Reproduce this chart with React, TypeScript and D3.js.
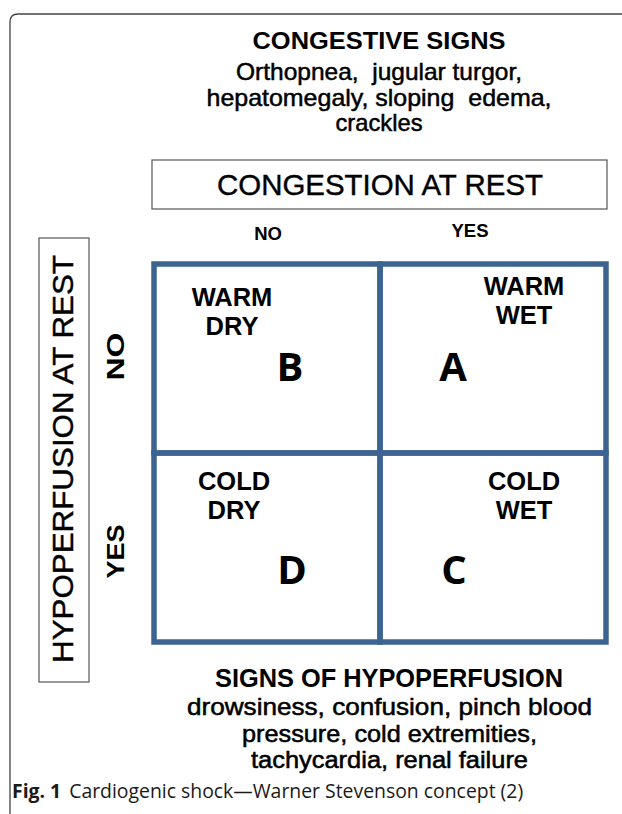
import React from "react";
import * as d3 from "d3";

// ---- data ----
const congestionLevels = ["NO", "YES"];
const hypoperfusionLevels = ["NO", "YES"];
const cellProfiles = [
  { col: "NO", row: "NO", lines: ["WARM", "DRY"], letter: "B" },
  { col: "YES", row: "NO", lines: ["WARM", "WET"], letter: "A" },
  { col: "NO", row: "YES", lines: ["COLD", "DRY"], letter: "D" },
  { col: "YES", row: "YES", lines: ["COLD", "WET"], letter: "C" },
];
const topTitle = "CONGESTIVE SIGNS";
const topLines = ["Orthopnea,  jugular turgor,", "hepatomegaly, sloping  edema,", "crackles"];
const colAxisTitle = "CONGESTION AT REST";
const rowAxisTitle = "HYPOPERFUSION AT REST";
const bottomTitle = "SIGNS OF HYPOPERFUSION";
const bottomLines = ["drowsiness, confusion, pinch blood", "pressure, cold extremities,", "tachycardia, renal failure"];
const captionBold = "Fig. 1";
const captionText = "Cardiogenic shock\u2014Warner Stevenson concept (2)";

// ---- layout ----
const W = 622;
const H = 814;
const FONT = "'Liberation Sans', Arial, sans-serif";
const BLUE = "#3d6491";
const topLineWidths = [286, 345, 87];
const bottomLineWidths = [405, 295, 277];
const rowLabelLengths = [48, 54];
const rowLabelShift = [-2, 4];
// label offsets within cells (relative to cell left/top)
const labelOffset: Record<string, { lx: number; ly: number; bx: number; by: number }> = {
  "NO|NO": { lx: 78, ly: 42, bx: 136, by: 117 },
  "YES|NO": { lx: 144, ly: 31, bx: 73, by: 117 },
  "NO|YES": { lx: 80, ly: 37, bx: 138, by: 131 },
  "YES|YES": { lx: 144, ly: 37, bx: 74, by: 131 },
};

export default function App() {
  const x = d3.scaleBand<string>().domain(congestionLevels).range([154, 606]).padding(0);
  const y = d3.scaleBand<string>().domain(hypoperfusionLevels).range([264, 642]).padding(0);
  const bw = x.bandwidth();
  const bh = y.bandwidth();

  return (
    <svg width={W} height={H} style={{ position: "absolute", left: 0, top: 0, background: "#fff" }}>
      {/* outer frame */}
      <path
        d={`M10,${H + 2} L10,22 Q10,14 18,14 L${W + 5},14`}
        fill="none"
        stroke="#444"
        strokeWidth={1.3}
      />
      {/* top text */}
      <text
        x={379}
        y={49}
        textAnchor="middle"
        fontFamily={FONT}
        fontWeight="bold"
        fontSize={23}
        textLength={253}
        lengthAdjust="spacingAndGlyphs"
      >
        {topTitle}
      </text>
      {topLines.map((t, i) => (
        <text
          key={i}
          x={379}
          y={80 + i * 25.5}
          textAnchor="middle"
          fontFamily={FONT}
          fontSize={24}
          stroke="#000"
          strokeWidth={0.5}
          textLength={topLineWidths[i]}
          lengthAdjust="spacingAndGlyphs"
          style={{ whiteSpace: "pre" }}
        >
          {t}
        </text>
      ))}
      {/* congestion box */}
      <rect x={152} y={160} width={455} height={49} fill="none" stroke="#555" strokeWidth={1.2} />
      <text
        x={380}
        y={195}
        textAnchor="middle"
        fontFamily={FONT}
        fontSize={29}
        stroke="#000"
        strokeWidth={0.4}
        textLength={326}
        lengthAdjust="spacingAndGlyphs"
      >
        {colAxisTitle}
      </text>
      {congestionLevels.map((c, i) => (
        <text
          key={c}
          x={(x(c) as number) + bw / 2 + (i === 0 ? 1 : -23)}
          y={i === 0 ? 240 : 237}
          textAnchor="middle"
          fontFamily={FONT}
          fontWeight="bold"
          fontSize={18.5}
        >
          {c}
        </text>
      ))}
      {/* hypoperfusion box */}
      <rect x={39} y={238} width={50} height={444} fill="none" stroke="#555" strokeWidth={1.2} />
      <text
        transform={`translate(73,${459}) rotate(-90)`}
        textAnchor="middle"
        fontFamily={FONT}
        fontSize={29}
        stroke="#000"
        strokeWidth={0.4}
        textLength={408}
        lengthAdjust="spacingAndGlyphs"
      >
        {rowAxisTitle}
      </text>
      {hypoperfusionLevels.map((r, i) => (
        <text
          key={r}
          transform={`translate(124,${(y(r) as number) + bh / 2 + rowLabelShift[i]}) rotate(-90)`}
          textAnchor="middle"
          fontFamily={FONT}
          fontWeight="bold"
          fontSize={23}
          textLength={rowLabelLengths[i]}
          lengthAdjust="spacingAndGlyphs"
        >
          {r}
        </text>
      ))}
      {/* grid cells */}
      {cellProfiles.map((c) => {
        const cx = x(c.col) as number;
        const cy = y(c.row) as number;
        const o = labelOffset[`${c.col}|${c.row}`];
        return (
          <g key={c.letter}>
            <rect x={cx} y={cy} width={bw} height={bh} fill="none" stroke={BLUE} strokeWidth={5.5} />
            {c.lines.map((l, j) => (
              <text
                key={j}
                x={cx + o.lx}
                y={cy + o.ly + j * 28.5}
                textAnchor="middle"
                fontFamily={FONT}
                fontWeight="bold"
                fontSize={25.5}
              >
                {l}
              </text>
            ))}
            <text
              x={cx + o.bx}
              y={cy + o.by}
              textAnchor="middle"
              fontFamily="'Open Sans', 'Noto Sans', sans-serif"
              fontWeight="bold"
              fontSize={40}
            >
              {c.letter}
            </text>
          </g>
        );
      })}
      {/* bottom text */}
      <text
        x={389}
        y={687}
        textAnchor="middle"
        fontFamily={FONT}
        fontWeight="bold"
        fontSize={25}
        textLength={348}
        lengthAdjust="spacingAndGlyphs"
      >
        {bottomTitle}
      </text>
      {bottomLines.map((t, i) => (
        <text
          key={i}
          x={389.5}
          y={715 + i * 26.5}
          textAnchor="middle"
          fontFamily={FONT}
          fontSize={24.5}
          stroke="#000"
          strokeWidth={0.55}
          textLength={bottomLineWidths[i]}
          lengthAdjust="spacingAndGlyphs"
        >
          {t}
        </text>
      ))}
      {/* caption */}
      <text x={12} y={798} fontFamily="'Open Sans', 'Noto Sans', sans-serif" fontSize={19.4} fill="#1a1a1a">
        <tspan fontWeight="bold">{captionBold}</tspan>
        <tspan dx={8}>{captionText}</tspan>
      </text>
    </svg>
  );
}
